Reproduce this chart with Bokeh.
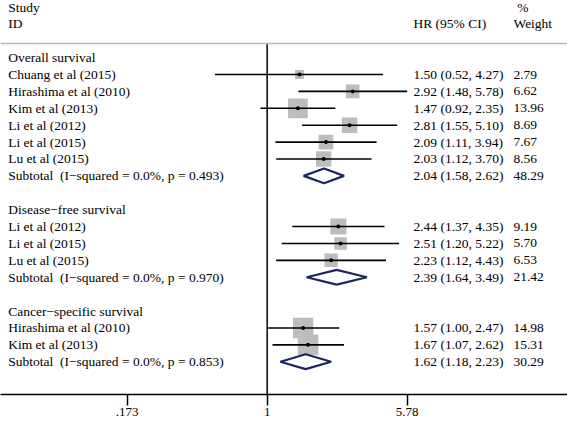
import numpy as np
from bokeh.plotting import figure
from bokeh.models import Range1d, FixedTicker, Span, ColumnDataSource
from bokeh.core.properties import value
from bokeh.embed import file_html
from bokeh.resources import INLINE

# ---- data ----
group_titles = ["Overall survival", "Disease\u2212free survival", "Cancer\u2212specific survival"]
group_studies = [
    ["Chuang et al (2015)", "Hirashima et al (2010)", "Kim et al (2013)",
     "Li et al (2012)", "Li et al (2015)", "Lu et al (2015)"],
    ["Li et al (2012)", "Li et al (2015)", "Lu et al (2015)"],
    ["Hirashima et al (2010)", "Kim et al (2013)"],
]
group_hr = [[1.50, 2.92, 1.47, 2.81, 2.09, 2.03], [2.44, 2.51, 2.23], [1.57, 1.67]]
group_lo = [[0.52, 1.48, 0.92, 1.55, 1.11, 1.12], [1.37, 1.20, 1.12], [1.00, 1.07]]
group_hi = [[4.27, 5.78, 2.35, 5.10, 3.94, 3.70], [4.35, 5.22, 4.43], [2.47, 2.62]]
group_w = [[2.79, 6.62, 13.96, 8.69, 7.67, 8.56], [9.19, 5.70, 6.53], [14.98, 15.31]]
sub_het = ["(I\u2212squared = 0.0%, p = 0.493)", "(I\u2212squared = 0.0%, p = 0.970)",
           "(I\u2212squared = 0.0%, p = 0.853)"]
sub_hr = [2.04, 2.39, 1.62]
sub_lo = [1.58, 1.64, 1.18]
sub_hi = [2.62, 3.49, 2.23]
sub_w = [48.29, 21.42, 30.29]
tick_values = [0.173, 1, 5.78]
tick_labels = [".173", "1", "5.78"]

# ---- layout constants (data units on the log HR axis) ----
X_LEFT, X_RIGHT = 0.0354, 43.1
COL_STUDY = 0.039
COL_HR = 6.25
COL_W = 21.9
HEAD_LINE = -0.83
Y_TOP, Y_BOT = -3.38, 19.94
FONT = value("Liberation Serif")
FS = "13.5px"
NAVY = "#1b2a5e"
GRAY = "#bdbdbd"

def fmt(h, l, u):
    return f"{h:.2f} ({l:.2f}, {u:.2f})"

# build rows
lab_y, lab_t = [], []
st_y, st_hr, st_lo, st_hi, st_w, st_txt, st_wt = [], [], [], [], [], [], []
sb_y = []
row = 0
for g in range(3):
    lab_y.append(row); lab_t.append(group_titles[g]); row += 1
    for i, s in enumerate(group_studies[g]):
        lab_y.append(row); lab_t.append(s)
        st_y.append(row); st_hr.append(group_hr[g][i]); st_lo.append(group_lo[g][i])
        st_hi.append(group_hi[g][i]); st_w.append(group_w[g][i])
        st_txt.append(fmt(group_hr[g][i], group_lo[g][i], group_hi[g][i]))
        st_wt.append(f"{group_w[g][i]:.2f}")
        row += 1
    lab_y.append(row); lab_t.append("Subtotal\u00a0\u00a0" + sub_het[g])
    sb_y.append(row)
    row += 2

p = figure(width=567, height=421, x_axis_type="log", output_backend="svg",
           toolbar_location=None, x_range=Range1d(X_LEFT, X_RIGHT),
           y_range=Range1d(Y_BOT, Y_TOP), y_axis_location=None,
           min_border_left=0, min_border_right=0, min_border_top=0, min_border_bottom=27)
p.grid.visible = False
p.outline_line_color = None
p.background_fill_color = "white"

# header
p.text(x=[COL_STUDY, COL_STUDY], y=[-2.97, -2.02], text=["Study", "ID"],
       text_font=FONT, text_font_size=FS, text_baseline="middle", text_color="black")
p.text(x=[COL_HR], y=[-2.02], text=["HR (95% CI)"], text_font=FONT, text_font_size=FS,
       text_baseline="middle", text_color="black")
p.text(x=[COL_W * 1.05, COL_W], y=[-2.97, -2.02], text=["%", "Weight"], text_font=FONT,
       text_font_size=FS, text_baseline="middle", text_color="black")
p.add_layout(Span(location=HEAD_LINE, dimension="width", line_color="#b8b8b8", line_width=1.5))

# null line
p.segment(x0=[1], y0=[HEAD_LINE], x1=[1], y1=[Y_BOT], line_color="black", line_width=1.5)

# labels
p.text(x=[COL_STUDY] * len(lab_y), y=lab_y, text=lab_t, text_font=FONT, text_font_size=FS,
       text_baseline="middle", text_color="black")

# studies
src = ColumnDataSource(dict(y=st_y, hr=st_hr, lo=st_lo, hi=st_hi,
                            size=[5.27 * np.sqrt(w) for w in st_w], txt=st_txt, wt=st_wt))
p.scatter(x="hr", y="y", size="size", marker="square", source=src,
          fill_color=GRAY, line_color=None)
p.segment(x0="lo", y0="y", x1="hi", y1="y", source=src, line_color="black", line_width=1.6)
p.scatter(x="hr", y="y", size=4, source=src, fill_color="black", line_color=None)
p.text(x=COL_HR, y="y", text="txt", source=src, text_font=FONT, text_font_size=FS,
       text_baseline="middle", text_color="black")
p.text(x=COL_W, y="y", text="wt", source=src, text_font=FONT, text_font_size=FS,
       text_baseline="middle", text_color="black")

# subtotals
dh = 0.44
xs = [[lo, h, hi, h] for lo, h, hi in zip(sub_lo, sub_hr, sub_hi)]
ys = [[y, y - dh, y, y + dh] for y in sb_y]
p.patches(xs=xs, ys=ys, fill_color="white", line_color=NAVY, line_width=2.2)
p.text(x=[COL_HR] * 3, y=sb_y, text=[fmt(h, l, u) for h, l, u in zip(sub_hr, sub_lo, sub_hi)],
       text_font=FONT, text_font_size=FS, text_baseline="middle", text_color="black")
p.text(x=[COL_W] * 3, y=sb_y, text=[f"{w:.2f}" for w in sub_w],
       text_font=FONT, text_font_size=FS, text_baseline="middle", text_color="black")

# axis
ax = p.xaxis[0]
ax.ticker = FixedTicker(ticks=tick_values)
ax.major_label_overrides = {v: t for v, t in zip(tick_values, tick_labels)}
ax.minor_tick_line_color = None
ax.major_tick_out = 11
ax.major_tick_in = 0
ax.major_label_standoff = 2
ax.axis_line_width = 1.5
ax.major_tick_line_width = 1.5
ax.axis_line_color = "black"
ax.major_tick_line_color = "black"
ax.major_label_text_font = "Liberation Serif"
ax.major_label_text_font_size = "13px"
ax.major_label_text_color = "black"

open("out.html", "w").write(file_html(p, INLINE))
